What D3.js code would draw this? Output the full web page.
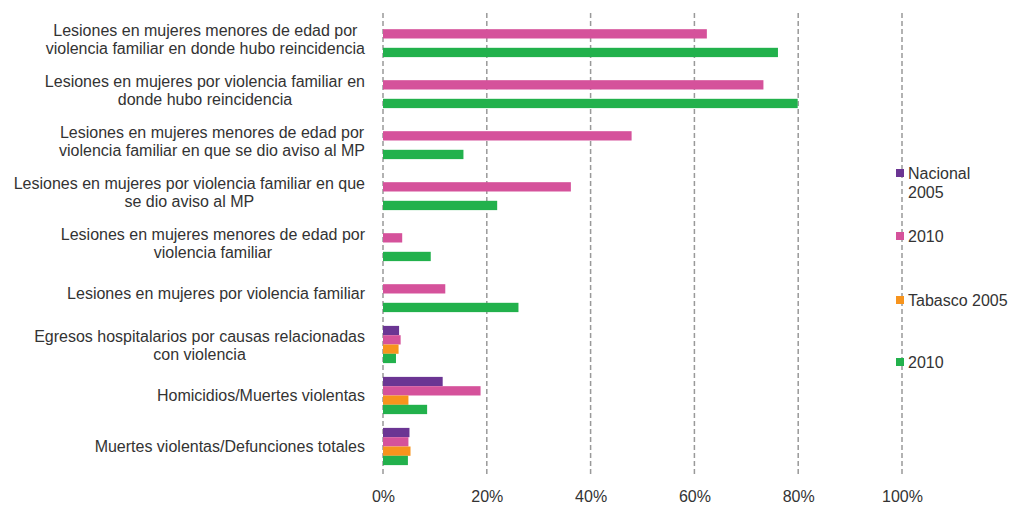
<!DOCTYPE html>
<html><head><meta charset="utf-8">
<script src="https://cdn.jsdelivr.net/npm/d3@7"></script>
<style>body{margin:0;background:#fff}svg{display:block}svg text{font-family:"Liberation Sans",Arial,sans-serif;fill:#333}</style>
</head><body><svg id="c" width="1024" height="506"></svg>
<script>
const categories = [
  ["Lesiones en mujeres menores de edad por","violencia familiar en donde hubo reincidencia"],
  ["Lesiones en mujeres por violencia familiar en","donde hubo reincidencia"],
  ["Lesiones en mujeres menores de edad por","violencia familiar en que se dio aviso al MP"],
  ["Lesiones en mujeres por violencia familiar en que","se dio aviso al MP"],
  ["Lesiones en mujeres menores de edad por","violencia familiar"],
  ["Lesiones en mujeres por violencia familiar"],
  ["Egresos hospitalarios por causas relacionadas","con violencia"],
  ["Homicidios/Muertes violentas"],
  ["Muertes violentas/Defunciones totales"]
];
const seriesNames = ["Nacional 2005","Nacional 2010","Tabasco 2005","Tabasco 2010"];
const legendLabels = [["Nacional","2005"],["2010"],["Tabasco 2005"],["2010"]];
const colors = ["#6B3593","#D5529B","#F7941D","#22B14C"];
const nacional2005 = [null,null,null,null,null,null,3.1,11.5,5.1];
const nacional2010 = [62.4,73.3,47.9,36.2,3.7,12.0,3.4,18.8,4.9];
const tabasco2005  = [null,null,null,null,null,null,3.0,4.9,5.3];
const tabasco2010  = [76.1,79.9,15.5,22.0,9.2,26.1,2.5,8.5,4.8];
const xTicks = [0,20,40,60,80,100];
const values = [nacional2005,nacional2010,tabasco2005,tabasco2010];

const FS = "16px";
const svg = d3.select("#c");
const x = d3.scaleLinear().domain([0,100]).range([383,902]);
const y = d3.scaleBand().domain(d3.range(categories.length)).range([13,472]).paddingInner(0.27).paddingOuter(0.135);
const ys = d3.scaleBand().domain(d3.range(4)).range([0,y.bandwidth()]);

// gridlines
svg.append("g").selectAll("line").data(xTicks).join("line")
  .attr("x1",d=>x(d)).attr("x2",d=>x(d)).attr("y1",13).attr("y2",474)
  .attr("stroke","#999").attr("stroke-width",1.5).attr("stroke-dasharray","5,3");

// x axis labels
const xAxis = d3.axisBottom(x).tickValues(xTicks).tickFormat(d=>d+"%").tickSize(0).tickPadding(0);
const gx = svg.append("g").attr("transform","translate(0,491)").call(xAxis);
gx.select(".domain").remove();
gx.attr("font-family",null).attr("font-size",null);
gx.selectAll("text").style("font-size",FS).attr("fill","#333");

// bars
const g = svg.append("g");
values.forEach((arr,si)=>{
  g.append("g").selectAll("rect").data(arr.map((v,i)=>({v,i})).filter(d=>d.v!=null)).join("rect")
    .attr("x",x(0)).attr("y",d=>y(d.i)+ys(si)).attr("width",d=>x(d.v)-x(0)).attr("height",ys.bandwidth())
    .attr("fill",colors[si]);
});

// category labels
const lab = svg.append("g");
categories.forEach((lines,i)=>{
  const cy = y(i)+y.bandwidth()/2 + (lines.length>1?1:0);
  const lh = 17.5;
  const t = lab.append("g");
  const texts = lines.map((l,j)=>t.append("text").text(l).style("font-size",FS)
      .attr("y", cy + (j-(lines.length-1)/2)*lh).attr("dy","0.35em"));
  const widths = texts.map(tx=>tx.node().getComputedTextLength());
  const maxW = d3.max(widths);
  const right = 365;
  texts.forEach(tx=>tx.attr("x", right - maxW/2).attr("text-anchor","middle"));
});

// legend
const legY = [173,236,300,362];
const lg = svg.append("g");
legendLabels.forEach((lines,i)=>{
  lg.append("rect").attr("x",896).attr("y",legY[i]-4).attr("width",8).attr("height",8).attr("fill",colors[i]);
  lines.forEach((l,j)=>{
    lg.append("text").text(l).attr("x",908).attr("y",legY[i]+j*19).attr("dy","0.35em").style("font-size",FS);
  });
});
</script></body></html>
